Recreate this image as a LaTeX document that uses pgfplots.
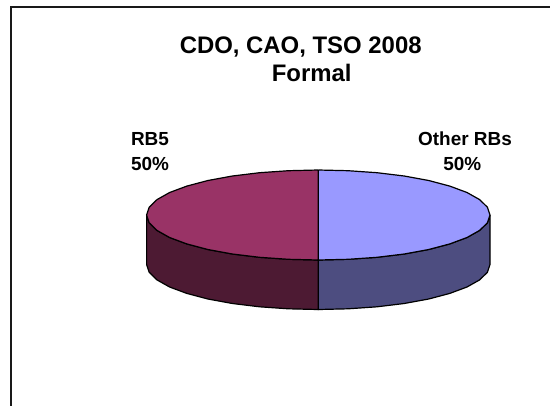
\documentclass[border=0pt]{standalone}
\usepackage{fontspec}
\setmainfont{Liberation Sans}
\usepackage{pgfplots}
\pgfplotsset{compat=1.18}
\definecolor{topB}{HTML}{9999FF}
\definecolor{topR}{HTML}{993366}
\definecolor{sideB}{HTML}{4D4D80}
\definecolor{sideR}{HTML}{4D1A33}
\begin{document}
\begin{tikzpicture}
\begin{axis}[
  at={(0,0)}, anchor=south west,
  width=550bp, height=406bp, scale only axis,
  xmin=0, xmax=550, ymin=0, ymax=406, y dir=reverse,
  hide axis, clip=true,
]
% invisible page area
\addplot[draw=none, fill=white, forget plot] coordinates {(0,0) (550,0) (550,406) (0,406)} \closedcycle;
% frame
\addplot[draw=black!90, line width=2bp, forget plot] coordinates {(550,7.5) (11,7.5) (11,406)};
% side, Other RBs
\addplot[draw=black, line width=1.2bp, fill=sideB, forget plot] coordinates {
(490,215) (487.4,222.8) (479.6,230.4) (467,237.5) (449.8,243.9) (428.7,249.5) (404.2,254) (377,257.3) (348.1,259.3) (318.3,260)
(318.3,309.5) (348.1,308.8) (377,306.8) (404.2,303.5) (428.7,299) (449.8,293.4) (467,287) (479.6,279.9) (487.4,272.3) (490,264.5) (490,215)};
% side, RB5
\addplot[draw=black, line width=1.2bp, fill=sideR, forget plot] coordinates {
(146.6,215) (149.2,222.8) (157,230.4) (169.6,237.5) (186.8,243.9) (207.9,249.5) (232.4,254) (259.6,257.3) (288.5,259.3) (318.3,260)
(318.3,309.5) (288.5,308.8) (259.6,306.8) (232.4,303.5) (207.9,299) (186.8,293.4) (169.6,287) (157,279.9) (149.2,272.3) (146.6,264.5) (146.6,215)};
% top, Other RBs
\addplot[draw=black, line width=1.2bp, fill=topB, forget plot] coordinates {
(318.3,170) (348.1,170.7) (377,172.7) (404.2,176) (428.7,180.5) (449.8,186.1) (467,192.5) (479.6,199.6) (487.4,207.2) (490,215)
(487.4,222.8) (479.6,230.4) (467,237.5) (449.8,243.9) (428.7,249.5) (404.2,254) (377,257.3) (348.1,259.3) (318.3,260) (318.3,170)};
% top, RB5
\addplot[draw=black, line width=1.2bp, fill=topR, forget plot] coordinates {
(318.3,170) (288.5,170.7) (259.6,172.7) (232.4,176) (207.9,180.5) (186.8,186.1) (169.6,192.5) (157,199.6) (149.2,207.2) (146.6,215)
(149.2,222.8) (157,230.4) (169.6,237.5) (186.8,243.9) (207.9,249.5) (232.4,254) (259.6,257.3) (288.5,259.3) (318.3,260) (318.3,170)};
\node[font=\fontsize{24}{26}\selectfont\bfseries] at (axis cs:300.7,46.7) {CDO, CAO, TSO 2008};
\node[font=\fontsize{24}{26}\selectfont\bfseries] at (axis cs:311.7,72.7) {Formal};
\node[font=\fontsize{19}{21}\selectfont\bfseries] at (axis cs:150,139) {RB5};
\node[font=\fontsize{19}{21}\selectfont\bfseries] at (axis cs:150,163.5) {50\%};
\node[font=\fontsize{19}{21}\selectfont\bfseries] at (axis cs:465,139) {Other RBs};
\node[font=\fontsize{19}{21}\selectfont\bfseries] at (axis cs:462.3,163.5) {50\%};
\end{axis}
\end{tikzpicture}
\end{document}
